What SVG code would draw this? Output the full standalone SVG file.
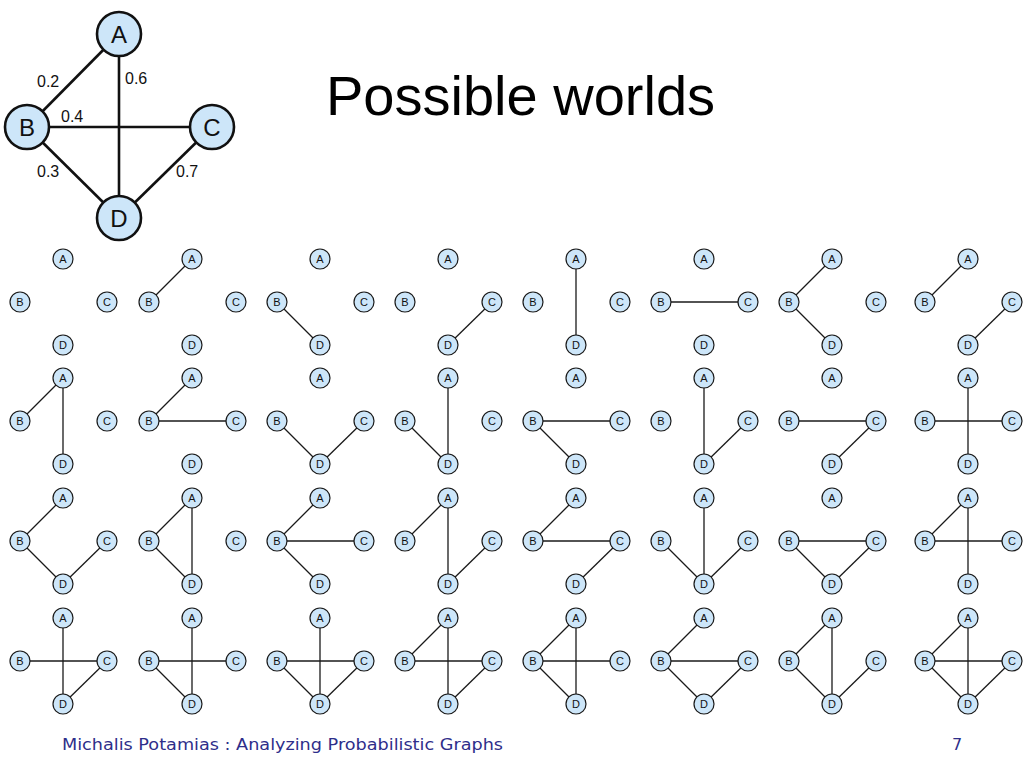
<svg xmlns="http://www.w3.org/2000/svg" xmlns:xlink="http://www.w3.org/1999/xlink" width="1024" height="768" viewBox="0 0 1024 768">
<defs>
<style>
.bg{fill:#ffffff}
.bige{stroke:#111;stroke-width:2.6;fill:none}
.bign circle{fill:#cde6f9;stroke:#111;stroke-width:2.6}
.bign text{font-family:"Liberation Sans",Arial,sans-serif;font-size:24px;fill:#111;text-anchor:middle}
.elab{font-family:"Liberation Sans",Arial,sans-serif;font-size:16px;fill:#111}
.se{stroke:#1a1a1a;stroke-width:1.3;fill:none}
.sn circle{fill:#cde6f9;stroke:#1a1a1a;stroke-width:1.2}
.sn text{font-family:"Liberation Sans",Arial,sans-serif;font-size:11px;fill:#111;text-anchor:middle}
.title{font-family:"Liberation Sans",Arial,sans-serif;font-size:56px;fill:#000}
.foot{font-family:"DejaVu Sans",Verdana,sans-serif;font-size:16px;fill:#2e2e8a}
</style>
<line id="eAB" class="se" x1="0" y1="0" x2="-43" y2="43"/>
<line id="eAD" class="se" x1="0" y1="0" x2="0" y2="86"/>
<line id="eBC" class="se" x1="-43" y1="43" x2="44" y2="43"/>
<line id="eBD" class="se" x1="-43" y1="43" x2="0" y2="86"/>
<line id="eCD" class="se" x1="44" y1="43" x2="0" y2="86"/>
</defs>
<rect class="bg" x="0" y="0" width="1024" height="768"/>

<text class="title" x="326" y="115">Possible worlds</text>

<g id="main-graph">
<g id="main-connectors">
<line class="bige" x1="119" y1="34" x2="27" y2="127"/>
<line class="bige" x1="119" y1="34" x2="119" y2="218"/>
<line class="bige" x1="27" y1="127" x2="212" y2="127"/>
<line class="bige" x1="27" y1="127" x2="119" y2="218"/>
<line class="bige" x1="212" y1="127" x2="119" y2="218"/>
<text class="elab" x="37" y="87">0.2</text>
<text class="elab" x="125" y="84">0.6</text>
<text class="elab" x="61" y="122">0.4</text>
<text class="elab" x="37" y="177">0.3</text>
<text class="elab" x="176" y="177">0.7</text>
</g>
<g id="main-A" class="bign"><circle cx="119" cy="34" r="22"/><text x="119" y="43">A</text></g>
<g id="main-B" class="bign"><circle cx="27" cy="127" r="22"/><text x="27" y="136">B</text></g>
<g id="main-C" class="bign"><circle cx="212" cy="127" r="22"/><text x="212" y="136">C</text></g>
<g id="main-D" class="bign"><circle cx="119" cy="218" r="22"/><text x="119" y="227">D</text></g>
</g>

<g id="connectors">
<g transform="translate(63,259)"></g>
<g transform="translate(192,259)"><use xlink:href="#eAB"/></g>
<g transform="translate(320,259)"><use xlink:href="#eBD"/></g>
<g transform="translate(448,259)"><use xlink:href="#eCD"/></g>
<g transform="translate(576,259)"><use xlink:href="#eAD"/></g>
<g transform="translate(704,259)"><use xlink:href="#eBC"/></g>
<g transform="translate(832,259)"><use xlink:href="#eAB"/><use xlink:href="#eBD"/></g>
<g transform="translate(968,259)"><use xlink:href="#eAB"/><use xlink:href="#eCD"/></g>

<g transform="translate(63,378)"><use xlink:href="#eAB"/><use xlink:href="#eAD"/></g>
<g transform="translate(192,378)"><use xlink:href="#eAB"/><use xlink:href="#eBC"/></g>
<g transform="translate(320,378)"><use xlink:href="#eBD"/><use xlink:href="#eCD"/></g>
<g transform="translate(448,378)"><use xlink:href="#eBD"/><use xlink:href="#eAD"/></g>
<g transform="translate(576,378)"><use xlink:href="#eBC"/><use xlink:href="#eBD"/></g>
<g transform="translate(704,378)"><use xlink:href="#eAD"/><use xlink:href="#eCD"/></g>
<g transform="translate(832,378)"><use xlink:href="#eBC"/><use xlink:href="#eCD"/></g>
<g transform="translate(968,378)"><use xlink:href="#eAD"/><use xlink:href="#eBC"/></g>

<g transform="translate(63,498)"><use xlink:href="#eAB"/><use xlink:href="#eBD"/><use xlink:href="#eCD"/></g>
<g transform="translate(192,498)"><use xlink:href="#eAB"/><use xlink:href="#eAD"/><use xlink:href="#eBD"/></g>
<g transform="translate(320,498)"><use xlink:href="#eAB"/><use xlink:href="#eBC"/><use xlink:href="#eBD"/></g>
<g transform="translate(448,498)"><use xlink:href="#eAB"/><use xlink:href="#eAD"/><use xlink:href="#eCD"/></g>
<g transform="translate(576,498)"><use xlink:href="#eAB"/><use xlink:href="#eBC"/><use xlink:href="#eCD"/></g>
<g transform="translate(704,498)"><use xlink:href="#eAD"/><use xlink:href="#eBD"/><use xlink:href="#eCD"/></g>
<g transform="translate(832,498)"><use xlink:href="#eBC"/><use xlink:href="#eBD"/><use xlink:href="#eCD"/></g>
<g transform="translate(968,498)"><use xlink:href="#eAB"/><use xlink:href="#eAD"/><use xlink:href="#eBC"/></g>

<g transform="translate(63,618)"><use xlink:href="#eAD"/><use xlink:href="#eBC"/><use xlink:href="#eCD"/></g>
<g transform="translate(192,618)"><use xlink:href="#eAD"/><use xlink:href="#eBC"/><use xlink:href="#eBD"/></g>
<g transform="translate(320,618)"><use xlink:href="#eAD"/><use xlink:href="#eBC"/><use xlink:href="#eBD"/><use xlink:href="#eCD"/></g>
<g transform="translate(448,618)"><use xlink:href="#eAB"/><use xlink:href="#eAD"/><use xlink:href="#eBC"/><use xlink:href="#eCD"/></g>
<g transform="translate(576,618)"><use xlink:href="#eAB"/><use xlink:href="#eAD"/><use xlink:href="#eBC"/><use xlink:href="#eBD"/></g>
<g transform="translate(704,618)"><use xlink:href="#eAB"/><use xlink:href="#eBC"/><use xlink:href="#eBD"/><use xlink:href="#eCD"/></g>
<g transform="translate(832,618)"><use xlink:href="#eAB"/><use xlink:href="#eAD"/><use xlink:href="#eBD"/><use xlink:href="#eCD"/></g>
<g transform="translate(968,618)"><use xlink:href="#eAB"/><use xlink:href="#eAD"/><use xlink:href="#eBC"/><use xlink:href="#eBD"/><use xlink:href="#eCD"/></g>
</g>

<g id="world-nodes">
<g id="w1-1" transform="translate(63,259)"><g id="w1-1-A" class="sn"><circle cx="0" cy="0" r="10"/><text x="0" y="4">A</text></g><g id="w1-1-B" class="sn"><circle cx="-43" cy="43" r="10"/><text x="-43" y="47">B</text></g><g id="w1-1-C" class="sn"><circle cx="44" cy="43" r="10"/><text x="44" y="47">C</text></g><g id="w1-1-D" class="sn"><circle cx="0" cy="86" r="10"/><text x="0" y="90">D</text></g></g>
<g id="w1-2" transform="translate(192,259)"><g id="w1-2-A" class="sn"><circle cx="0" cy="0" r="10"/><text x="0" y="4">A</text></g><g id="w1-2-B" class="sn"><circle cx="-43" cy="43" r="10"/><text x="-43" y="47">B</text></g><g id="w1-2-C" class="sn"><circle cx="44" cy="43" r="10"/><text x="44" y="47">C</text></g><g id="w1-2-D" class="sn"><circle cx="0" cy="86" r="10"/><text x="0" y="90">D</text></g></g>
<g id="w1-3" transform="translate(320,259)"><g id="w1-3-A" class="sn"><circle cx="0" cy="0" r="10"/><text x="0" y="4">A</text></g><g id="w1-3-B" class="sn"><circle cx="-43" cy="43" r="10"/><text x="-43" y="47">B</text></g><g id="w1-3-C" class="sn"><circle cx="44" cy="43" r="10"/><text x="44" y="47">C</text></g><g id="w1-3-D" class="sn"><circle cx="0" cy="86" r="10"/><text x="0" y="90">D</text></g></g>
<g id="w1-4" transform="translate(448,259)"><g id="w1-4-A" class="sn"><circle cx="0" cy="0" r="10"/><text x="0" y="4">A</text></g><g id="w1-4-B" class="sn"><circle cx="-43" cy="43" r="10"/><text x="-43" y="47">B</text></g><g id="w1-4-C" class="sn"><circle cx="44" cy="43" r="10"/><text x="44" y="47">C</text></g><g id="w1-4-D" class="sn"><circle cx="0" cy="86" r="10"/><text x="0" y="90">D</text></g></g>
<g id="w1-5" transform="translate(576,259)"><g id="w1-5-A" class="sn"><circle cx="0" cy="0" r="10"/><text x="0" y="4">A</text></g><g id="w1-5-B" class="sn"><circle cx="-43" cy="43" r="10"/><text x="-43" y="47">B</text></g><g id="w1-5-C" class="sn"><circle cx="44" cy="43" r="10"/><text x="44" y="47">C</text></g><g id="w1-5-D" class="sn"><circle cx="0" cy="86" r="10"/><text x="0" y="90">D</text></g></g>
<g id="w1-6" transform="translate(704,259)"><g id="w1-6-A" class="sn"><circle cx="0" cy="0" r="10"/><text x="0" y="4">A</text></g><g id="w1-6-B" class="sn"><circle cx="-43" cy="43" r="10"/><text x="-43" y="47">B</text></g><g id="w1-6-C" class="sn"><circle cx="44" cy="43" r="10"/><text x="44" y="47">C</text></g><g id="w1-6-D" class="sn"><circle cx="0" cy="86" r="10"/><text x="0" y="90">D</text></g></g>
<g id="w1-7" transform="translate(832,259)"><g id="w1-7-A" class="sn"><circle cx="0" cy="0" r="10"/><text x="0" y="4">A</text></g><g id="w1-7-B" class="sn"><circle cx="-43" cy="43" r="10"/><text x="-43" y="47">B</text></g><g id="w1-7-C" class="sn"><circle cx="44" cy="43" r="10"/><text x="44" y="47">C</text></g><g id="w1-7-D" class="sn"><circle cx="0" cy="86" r="10"/><text x="0" y="90">D</text></g></g>
<g id="w1-8" transform="translate(968,259)"><g id="w1-8-A" class="sn"><circle cx="0" cy="0" r="10"/><text x="0" y="4">A</text></g><g id="w1-8-B" class="sn"><circle cx="-43" cy="43" r="10"/><text x="-43" y="47">B</text></g><g id="w1-8-C" class="sn"><circle cx="44" cy="43" r="10"/><text x="44" y="47">C</text></g><g id="w1-8-D" class="sn"><circle cx="0" cy="86" r="10"/><text x="0" y="90">D</text></g></g>

<g id="w2-1" transform="translate(63,378)"><g id="w2-1-A" class="sn"><circle cx="0" cy="0" r="10"/><text x="0" y="4">A</text></g><g id="w2-1-B" class="sn"><circle cx="-43" cy="43" r="10"/><text x="-43" y="47">B</text></g><g id="w2-1-C" class="sn"><circle cx="44" cy="43" r="10"/><text x="44" y="47">C</text></g><g id="w2-1-D" class="sn"><circle cx="0" cy="86" r="10"/><text x="0" y="90">D</text></g></g>
<g id="w2-2" transform="translate(192,378)"><g id="w2-2-A" class="sn"><circle cx="0" cy="0" r="10"/><text x="0" y="4">A</text></g><g id="w2-2-B" class="sn"><circle cx="-43" cy="43" r="10"/><text x="-43" y="47">B</text></g><g id="w2-2-C" class="sn"><circle cx="44" cy="43" r="10"/><text x="44" y="47">C</text></g><g id="w2-2-D" class="sn"><circle cx="0" cy="86" r="10"/><text x="0" y="90">D</text></g></g>
<g id="w2-3" transform="translate(320,378)"><g id="w2-3-A" class="sn"><circle cx="0" cy="0" r="10"/><text x="0" y="4">A</text></g><g id="w2-3-B" class="sn"><circle cx="-43" cy="43" r="10"/><text x="-43" y="47">B</text></g><g id="w2-3-C" class="sn"><circle cx="44" cy="43" r="10"/><text x="44" y="47">C</text></g><g id="w2-3-D" class="sn"><circle cx="0" cy="86" r="10"/><text x="0" y="90">D</text></g></g>
<g id="w2-4" transform="translate(448,378)"><g id="w2-4-A" class="sn"><circle cx="0" cy="0" r="10"/><text x="0" y="4">A</text></g><g id="w2-4-B" class="sn"><circle cx="-43" cy="43" r="10"/><text x="-43" y="47">B</text></g><g id="w2-4-C" class="sn"><circle cx="44" cy="43" r="10"/><text x="44" y="47">C</text></g><g id="w2-4-D" class="sn"><circle cx="0" cy="86" r="10"/><text x="0" y="90">D</text></g></g>
<g id="w2-5" transform="translate(576,378)"><g id="w2-5-A" class="sn"><circle cx="0" cy="0" r="10"/><text x="0" y="4">A</text></g><g id="w2-5-B" class="sn"><circle cx="-43" cy="43" r="10"/><text x="-43" y="47">B</text></g><g id="w2-5-C" class="sn"><circle cx="44" cy="43" r="10"/><text x="44" y="47">C</text></g><g id="w2-5-D" class="sn"><circle cx="0" cy="86" r="10"/><text x="0" y="90">D</text></g></g>
<g id="w2-6" transform="translate(704,378)"><g id="w2-6-A" class="sn"><circle cx="0" cy="0" r="10"/><text x="0" y="4">A</text></g><g id="w2-6-B" class="sn"><circle cx="-43" cy="43" r="10"/><text x="-43" y="47">B</text></g><g id="w2-6-C" class="sn"><circle cx="44" cy="43" r="10"/><text x="44" y="47">C</text></g><g id="w2-6-D" class="sn"><circle cx="0" cy="86" r="10"/><text x="0" y="90">D</text></g></g>
<g id="w2-7" transform="translate(832,378)"><g id="w2-7-A" class="sn"><circle cx="0" cy="0" r="10"/><text x="0" y="4">A</text></g><g id="w2-7-B" class="sn"><circle cx="-43" cy="43" r="10"/><text x="-43" y="47">B</text></g><g id="w2-7-C" class="sn"><circle cx="44" cy="43" r="10"/><text x="44" y="47">C</text></g><g id="w2-7-D" class="sn"><circle cx="0" cy="86" r="10"/><text x="0" y="90">D</text></g></g>
<g id="w2-8" transform="translate(968,378)"><g id="w2-8-A" class="sn"><circle cx="0" cy="0" r="10"/><text x="0" y="4">A</text></g><g id="w2-8-B" class="sn"><circle cx="-43" cy="43" r="10"/><text x="-43" y="47">B</text></g><g id="w2-8-C" class="sn"><circle cx="44" cy="43" r="10"/><text x="44" y="47">C</text></g><g id="w2-8-D" class="sn"><circle cx="0" cy="86" r="10"/><text x="0" y="90">D</text></g></g>

<g id="w3-1" transform="translate(63,498)"><g id="w3-1-A" class="sn"><circle cx="0" cy="0" r="10"/><text x="0" y="4">A</text></g><g id="w3-1-B" class="sn"><circle cx="-43" cy="43" r="10"/><text x="-43" y="47">B</text></g><g id="w3-1-C" class="sn"><circle cx="44" cy="43" r="10"/><text x="44" y="47">C</text></g><g id="w3-1-D" class="sn"><circle cx="0" cy="86" r="10"/><text x="0" y="90">D</text></g></g>
<g id="w3-2" transform="translate(192,498)"><g id="w3-2-A" class="sn"><circle cx="0" cy="0" r="10"/><text x="0" y="4">A</text></g><g id="w3-2-B" class="sn"><circle cx="-43" cy="43" r="10"/><text x="-43" y="47">B</text></g><g id="w3-2-C" class="sn"><circle cx="44" cy="43" r="10"/><text x="44" y="47">C</text></g><g id="w3-2-D" class="sn"><circle cx="0" cy="86" r="10"/><text x="0" y="90">D</text></g></g>
<g id="w3-3" transform="translate(320,498)"><g id="w3-3-A" class="sn"><circle cx="0" cy="0" r="10"/><text x="0" y="4">A</text></g><g id="w3-3-B" class="sn"><circle cx="-43" cy="43" r="10"/><text x="-43" y="47">B</text></g><g id="w3-3-C" class="sn"><circle cx="44" cy="43" r="10"/><text x="44" y="47">C</text></g><g id="w3-3-D" class="sn"><circle cx="0" cy="86" r="10"/><text x="0" y="90">D</text></g></g>
<g id="w3-4" transform="translate(448,498)"><g id="w3-4-A" class="sn"><circle cx="0" cy="0" r="10"/><text x="0" y="4">A</text></g><g id="w3-4-B" class="sn"><circle cx="-43" cy="43" r="10"/><text x="-43" y="47">B</text></g><g id="w3-4-C" class="sn"><circle cx="44" cy="43" r="10"/><text x="44" y="47">C</text></g><g id="w3-4-D" class="sn"><circle cx="0" cy="86" r="10"/><text x="0" y="90">D</text></g></g>
<g id="w3-5" transform="translate(576,498)"><g id="w3-5-A" class="sn"><circle cx="0" cy="0" r="10"/><text x="0" y="4">A</text></g><g id="w3-5-B" class="sn"><circle cx="-43" cy="43" r="10"/><text x="-43" y="47">B</text></g><g id="w3-5-C" class="sn"><circle cx="44" cy="43" r="10"/><text x="44" y="47">C</text></g><g id="w3-5-D" class="sn"><circle cx="0" cy="86" r="10"/><text x="0" y="90">D</text></g></g>
<g id="w3-6" transform="translate(704,498)"><g id="w3-6-A" class="sn"><circle cx="0" cy="0" r="10"/><text x="0" y="4">A</text></g><g id="w3-6-B" class="sn"><circle cx="-43" cy="43" r="10"/><text x="-43" y="47">B</text></g><g id="w3-6-C" class="sn"><circle cx="44" cy="43" r="10"/><text x="44" y="47">C</text></g><g id="w3-6-D" class="sn"><circle cx="0" cy="86" r="10"/><text x="0" y="90">D</text></g></g>
<g id="w3-7" transform="translate(832,498)"><g id="w3-7-A" class="sn"><circle cx="0" cy="0" r="10"/><text x="0" y="4">A</text></g><g id="w3-7-B" class="sn"><circle cx="-43" cy="43" r="10"/><text x="-43" y="47">B</text></g><g id="w3-7-C" class="sn"><circle cx="44" cy="43" r="10"/><text x="44" y="47">C</text></g><g id="w3-7-D" class="sn"><circle cx="0" cy="86" r="10"/><text x="0" y="90">D</text></g></g>
<g id="w3-8" transform="translate(968,498)"><g id="w3-8-A" class="sn"><circle cx="0" cy="0" r="10"/><text x="0" y="4">A</text></g><g id="w3-8-B" class="sn"><circle cx="-43" cy="43" r="10"/><text x="-43" y="47">B</text></g><g id="w3-8-C" class="sn"><circle cx="44" cy="43" r="10"/><text x="44" y="47">C</text></g><g id="w3-8-D" class="sn"><circle cx="0" cy="86" r="10"/><text x="0" y="90">D</text></g></g>

<g id="w4-1" transform="translate(63,618)"><g id="w4-1-A" class="sn"><circle cx="0" cy="0" r="10"/><text x="0" y="4">A</text></g><g id="w4-1-B" class="sn"><circle cx="-43" cy="43" r="10"/><text x="-43" y="47">B</text></g><g id="w4-1-C" class="sn"><circle cx="44" cy="43" r="10"/><text x="44" y="47">C</text></g><g id="w4-1-D" class="sn"><circle cx="0" cy="86" r="10"/><text x="0" y="90">D</text></g></g>
<g id="w4-2" transform="translate(192,618)"><g id="w4-2-A" class="sn"><circle cx="0" cy="0" r="10"/><text x="0" y="4">A</text></g><g id="w4-2-B" class="sn"><circle cx="-43" cy="43" r="10"/><text x="-43" y="47">B</text></g><g id="w4-2-C" class="sn"><circle cx="44" cy="43" r="10"/><text x="44" y="47">C</text></g><g id="w4-2-D" class="sn"><circle cx="0" cy="86" r="10"/><text x="0" y="90">D</text></g></g>
<g id="w4-3" transform="translate(320,618)"><g id="w4-3-A" class="sn"><circle cx="0" cy="0" r="10"/><text x="0" y="4">A</text></g><g id="w4-3-B" class="sn"><circle cx="-43" cy="43" r="10"/><text x="-43" y="47">B</text></g><g id="w4-3-C" class="sn"><circle cx="44" cy="43" r="10"/><text x="44" y="47">C</text></g><g id="w4-3-D" class="sn"><circle cx="0" cy="86" r="10"/><text x="0" y="90">D</text></g></g>
<g id="w4-4" transform="translate(448,618)"><g id="w4-4-A" class="sn"><circle cx="0" cy="0" r="10"/><text x="0" y="4">A</text></g><g id="w4-4-B" class="sn"><circle cx="-43" cy="43" r="10"/><text x="-43" y="47">B</text></g><g id="w4-4-C" class="sn"><circle cx="44" cy="43" r="10"/><text x="44" y="47">C</text></g><g id="w4-4-D" class="sn"><circle cx="0" cy="86" r="10"/><text x="0" y="90">D</text></g></g>
<g id="w4-5" transform="translate(576,618)"><g id="w4-5-A" class="sn"><circle cx="0" cy="0" r="10"/><text x="0" y="4">A</text></g><g id="w4-5-B" class="sn"><circle cx="-43" cy="43" r="10"/><text x="-43" y="47">B</text></g><g id="w4-5-C" class="sn"><circle cx="44" cy="43" r="10"/><text x="44" y="47">C</text></g><g id="w4-5-D" class="sn"><circle cx="0" cy="86" r="10"/><text x="0" y="90">D</text></g></g>
<g id="w4-6" transform="translate(704,618)"><g id="w4-6-A" class="sn"><circle cx="0" cy="0" r="10"/><text x="0" y="4">A</text></g><g id="w4-6-B" class="sn"><circle cx="-43" cy="43" r="10"/><text x="-43" y="47">B</text></g><g id="w4-6-C" class="sn"><circle cx="44" cy="43" r="10"/><text x="44" y="47">C</text></g><g id="w4-6-D" class="sn"><circle cx="0" cy="86" r="10"/><text x="0" y="90">D</text></g></g>
<g id="w4-7" transform="translate(832,618)"><g id="w4-7-A" class="sn"><circle cx="0" cy="0" r="10"/><text x="0" y="4">A</text></g><g id="w4-7-B" class="sn"><circle cx="-43" cy="43" r="10"/><text x="-43" y="47">B</text></g><g id="w4-7-C" class="sn"><circle cx="44" cy="43" r="10"/><text x="44" y="47">C</text></g><g id="w4-7-D" class="sn"><circle cx="0" cy="86" r="10"/><text x="0" y="90">D</text></g></g>
<g id="w4-8" transform="translate(968,618)"><g id="w4-8-A" class="sn"><circle cx="0" cy="0" r="10"/><text x="0" y="4">A</text></g><g id="w4-8-B" class="sn"><circle cx="-43" cy="43" r="10"/><text x="-43" y="47">B</text></g><g id="w4-8-C" class="sn"><circle cx="44" cy="43" r="10"/><text x="44" y="47">C</text></g><g id="w4-8-D" class="sn"><circle cx="0" cy="86" r="10"/><text x="0" y="90">D</text></g></g>
</g>

<text class="foot" x="62" y="750" textLength="441" lengthAdjust="spacingAndGlyphs">Michalis Potamias : Analyzing Probabilistic Graphs</text>
<text class="foot" x="952" y="750">7</text>
</svg>
